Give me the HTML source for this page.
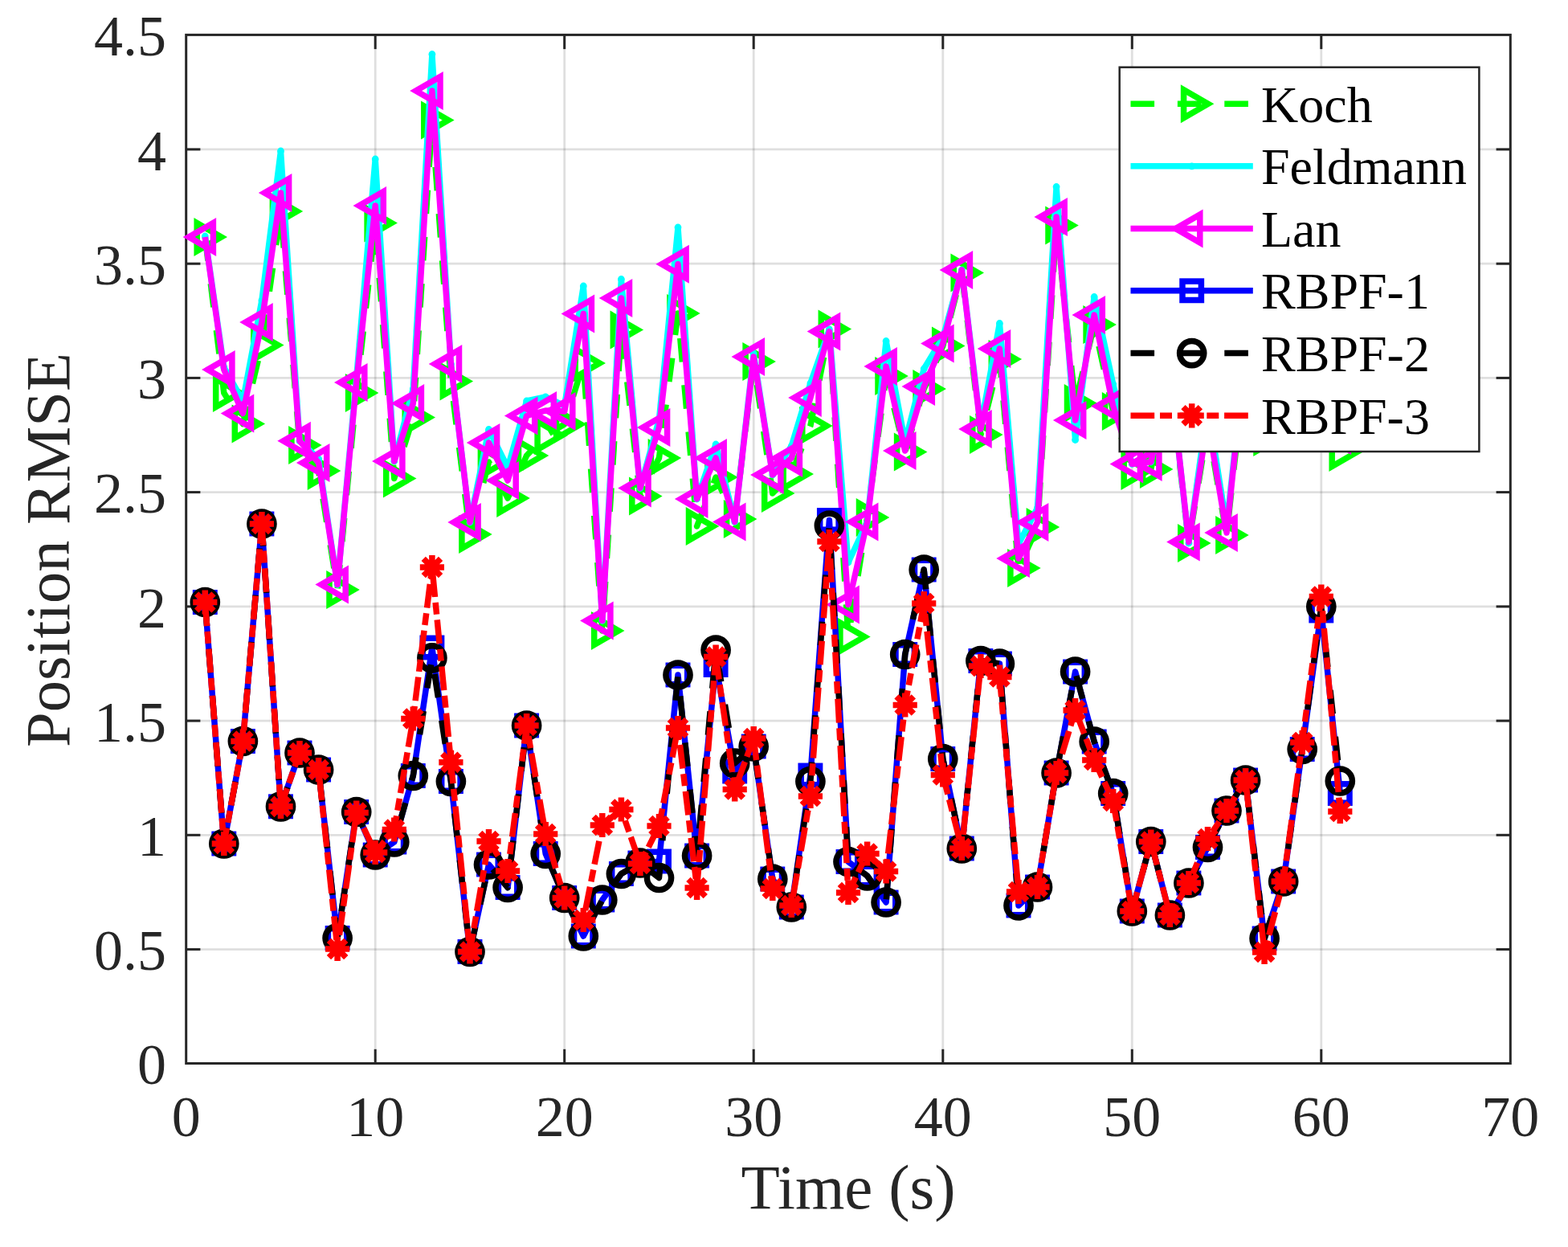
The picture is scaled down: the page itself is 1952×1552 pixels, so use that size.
<!DOCTYPE html>
<html lang="en"><head><meta charset="utf-8"><title>Position RMSE</title>
<style>html,body{margin:0;padding:0;background:#fff}body{width:1952px;height:1552px;overflow:hidden}svg{display:block}text{font-family:"Liberation Serif","Times New Roman",serif}</style>
</head><body>
<svg width="1952" height="1552" viewBox="0 0 1952 1552">
<rect width="1952" height="1552" fill="#fff"/>
<defs><clipPath id="ax"><rect x="231.7" y="43.4" width="1648.6" height="1280.1"/></clipPath>
<path id="mR" d="M-10.10,-17.50 L-10.10,17.50 L20.21,0 Z" fill="none" stroke-width="7.5" stroke-linejoin="miter" stroke-miterlimit="10"/>
<path id="mL" d="M10.10,-17.50 L10.10,17.50 L-20.21,0 Z" fill="none" stroke-width="7.5" stroke-linejoin="miter" stroke-miterlimit="10"/>
<rect id="mS" x="-11.70" y="-11.70" width="23.40" height="23.40" fill="none" stroke-width="7.5"/>
<circle id="mC" r="15.1" fill="none" stroke-width="7.5"/>
<circle id="mD" r="4.4" stroke="none" fill="#00ffff"/>
<path id="mA" d="M0,-15.10 V15.10 M-15.10,0 H15.10 M-10.68,-10.68 L10.68,10.68 M-10.68,10.68 L10.68,-10.68" fill="none" stroke-width="7.5"/>
</defs>
<g stroke="#262626" stroke-opacity="0.15" stroke-width="2.8" fill="none">
<line x1="467.2" y1="43.4" x2="467.2" y2="1323.5"/>
<line x1="702.7" y1="43.4" x2="702.7" y2="1323.5"/>
<line x1="938.2" y1="43.4" x2="938.2" y2="1323.5"/>
<line x1="1173.8" y1="43.4" x2="1173.8" y2="1323.5"/>
<line x1="1409.3" y1="43.4" x2="1409.3" y2="1323.5"/>
<line x1="1644.8" y1="43.4" x2="1644.8" y2="1323.5"/>
<line x1="231.7" y1="1181.6" x2="1880.3" y2="1181.6"/>
<line x1="231.7" y1="1039.3" x2="1880.3" y2="1039.3"/>
<line x1="231.7" y1="897.1" x2="1880.3" y2="897.1"/>
<line x1="231.7" y1="754.9" x2="1880.3" y2="754.9"/>
<line x1="231.7" y1="612.6" x2="1880.3" y2="612.6"/>
<line x1="231.7" y1="470.4" x2="1880.3" y2="470.4"/>
<line x1="231.7" y1="328.2" x2="1880.3" y2="328.2"/>
<line x1="231.7" y1="185.9" x2="1880.3" y2="185.9"/>
</g>
<g stroke="#262626" stroke-width="3" fill="none">
<rect x="231.7" y="43.4" width="1648.6" height="1280.1"/>
<line x1="467.2" y1="1323.5" x2="467.2" y2="1305.8"/>
<line x1="467.2" y1="43.4" x2="467.2" y2="61.1"/>
<line x1="702.7" y1="1323.5" x2="702.7" y2="1305.8"/>
<line x1="702.7" y1="43.4" x2="702.7" y2="61.1"/>
<line x1="938.2" y1="1323.5" x2="938.2" y2="1305.8"/>
<line x1="938.2" y1="43.4" x2="938.2" y2="61.1"/>
<line x1="1173.8" y1="1323.5" x2="1173.8" y2="1305.8"/>
<line x1="1173.8" y1="43.4" x2="1173.8" y2="61.1"/>
<line x1="1409.3" y1="1323.5" x2="1409.3" y2="1305.8"/>
<line x1="1409.3" y1="43.4" x2="1409.3" y2="61.1"/>
<line x1="1644.8" y1="1323.5" x2="1644.8" y2="1305.8"/>
<line x1="1644.8" y1="43.4" x2="1644.8" y2="61.1"/>
<line x1="231.7" y1="1181.6" x2="249.4" y2="1181.6"/>
<line x1="1880.3" y1="1181.6" x2="1862.6" y2="1181.6"/>
<line x1="231.7" y1="1039.3" x2="249.4" y2="1039.3"/>
<line x1="1880.3" y1="1039.3" x2="1862.6" y2="1039.3"/>
<line x1="231.7" y1="897.1" x2="249.4" y2="897.1"/>
<line x1="1880.3" y1="897.1" x2="1862.6" y2="897.1"/>
<line x1="231.7" y1="754.9" x2="249.4" y2="754.9"/>
<line x1="1880.3" y1="754.9" x2="1862.6" y2="754.9"/>
<line x1="231.7" y1="612.6" x2="249.4" y2="612.6"/>
<line x1="1880.3" y1="612.6" x2="1862.6" y2="612.6"/>
<line x1="231.7" y1="470.4" x2="249.4" y2="470.4"/>
<line x1="1880.3" y1="470.4" x2="1862.6" y2="470.4"/>
<line x1="231.7" y1="328.2" x2="249.4" y2="328.2"/>
<line x1="1880.3" y1="328.2" x2="1862.6" y2="328.2"/>
<line x1="231.7" y1="185.9" x2="249.4" y2="185.9"/>
<line x1="1880.3" y1="185.9" x2="1862.6" y2="185.9"/>
</g>
<g stroke="#00ff00">
<polyline clip-path="url(#ax)" points="255.3,295.0 278.8,489.0 302.4,527.5 325.9,429.5 349.5,263.0 373.0,554.0 396.6,586.0 420.1,734.0 443.7,489.0 467.2,277.5 490.8,595.5 514.3,519.5 537.9,149.5 561.4,474.5 585.0,665.0 608.5,575.0 632.1,620.0 655.6,567.0 679.2,542.0 702.7,528.0 726.3,452.0 749.8,785.0 773.4,410.5 796.9,617.5 820.5,570.0 844.0,390.0 867.6,655.0 891.1,594.0 914.7,646.0 938.2,450.0 961.8,614.0 985.3,590.0 1008.9,530.0 1032.4,409.5 1056.0,792.5 1079.6,644.0 1103.1,468.0 1126.7,562.5 1150.2,484.0 1173.8,430.5 1197.3,339.5 1220.9,541.0 1244.4,447.0 1268.0,707.0 1291.5,656.0 1315.1,280.5 1338.6,502.0 1362.2,404.0 1385.7,512.0 1409.3,586.0 1432.8,584.0 1456.4,470.0 1479.9,676.0 1503.5,530.0 1527.0,666.0 1550.6,450.0 1574.1,544.0 1597.7,420.0 1621.2,460.0 1644.8,400.0 1668.3,563.0" fill="none" stroke-width="7.5" stroke-linejoin="round" stroke-dasharray="29.6 28.8"/>
<use href="#mR" x="255.3" y="295.0"/>
<use href="#mR" x="278.8" y="489.0"/>
<use href="#mR" x="302.4" y="527.5"/>
<use href="#mR" x="325.9" y="429.5"/>
<use href="#mR" x="349.5" y="263.0"/>
<use href="#mR" x="373.0" y="554.0"/>
<use href="#mR" x="396.6" y="586.0"/>
<use href="#mR" x="420.1" y="734.0"/>
<use href="#mR" x="443.7" y="489.0"/>
<use href="#mR" x="467.2" y="277.5"/>
<use href="#mR" x="490.8" y="595.5"/>
<use href="#mR" x="514.3" y="519.5"/>
<use href="#mR" x="537.9" y="149.5"/>
<use href="#mR" x="561.4" y="474.5"/>
<use href="#mR" x="585.0" y="665.0"/>
<use href="#mR" x="608.5" y="575.0"/>
<use href="#mR" x="632.1" y="620.0"/>
<use href="#mR" x="655.6" y="567.0"/>
<use href="#mR" x="679.2" y="542.0"/>
<use href="#mR" x="702.7" y="528.0"/>
<use href="#mR" x="726.3" y="452.0"/>
<use href="#mR" x="749.8" y="785.0"/>
<use href="#mR" x="773.4" y="410.5"/>
<use href="#mR" x="796.9" y="617.5"/>
<use href="#mR" x="820.5" y="570.0"/>
<use href="#mR" x="844.0" y="390.0"/>
<use href="#mR" x="867.6" y="655.0"/>
<use href="#mR" x="891.1" y="594.0"/>
<use href="#mR" x="914.7" y="646.0"/>
<use href="#mR" x="938.2" y="450.0"/>
<use href="#mR" x="961.8" y="614.0"/>
<use href="#mR" x="985.3" y="590.0"/>
<use href="#mR" x="1008.9" y="530.0"/>
<use href="#mR" x="1032.4" y="409.5"/>
<use href="#mR" x="1056.0" y="792.5"/>
<use href="#mR" x="1079.6" y="644.0"/>
<use href="#mR" x="1103.1" y="468.0"/>
<use href="#mR" x="1126.7" y="562.5"/>
<use href="#mR" x="1150.2" y="484.0"/>
<use href="#mR" x="1173.8" y="430.5"/>
<use href="#mR" x="1197.3" y="339.5"/>
<use href="#mR" x="1220.9" y="541.0"/>
<use href="#mR" x="1244.4" y="447.0"/>
<use href="#mR" x="1268.0" y="707.0"/>
<use href="#mR" x="1291.5" y="656.0"/>
<use href="#mR" x="1315.1" y="280.5"/>
<use href="#mR" x="1338.6" y="502.0"/>
<use href="#mR" x="1362.2" y="404.0"/>
<use href="#mR" x="1385.7" y="512.0"/>
<use href="#mR" x="1409.3" y="586.0"/>
<use href="#mR" x="1432.8" y="584.0"/>
<use href="#mR" x="1456.4" y="470.0"/>
<use href="#mR" x="1479.9" y="676.0"/>
<use href="#mR" x="1503.5" y="530.0"/>
<use href="#mR" x="1527.0" y="666.0"/>
<use href="#mR" x="1550.6" y="450.0"/>
<use href="#mR" x="1574.1" y="544.0"/>
<use href="#mR" x="1597.7" y="420.0"/>
<use href="#mR" x="1621.2" y="460.0"/>
<use href="#mR" x="1644.8" y="400.0"/>
<use href="#mR" x="1668.3" y="563.0"/>
</g>
<g stroke="#00ffff">
<polyline clip-path="url(#ax)" points="255.3,294.0 278.8,457.0 302.4,499.0 325.9,374.0 349.5,188.0 373.0,548.8 396.6,571.0 420.1,727.5 443.7,470.0 467.2,198.0 490.8,574.0 514.3,484.0 537.9,67.5 561.4,453.0 585.0,650.0 608.5,534.5 632.1,582.0 655.6,499.0 679.2,494.0 702.7,505.0 726.3,356.0 749.8,772.5 773.4,347.5 796.9,607.5 820.5,522.0 844.0,283.0 867.6,621.0 891.1,553.0 914.7,649.5 938.2,440.0 961.8,591.0 985.3,555.0 1008.9,477.0 1032.4,410.0 1056.0,700.0 1079.6,649.5 1103.1,424.5 1126.7,550.0 1150.2,459.0 1173.8,420.0 1197.3,336.0 1220.9,530.0 1244.4,402.5 1268.0,677.0 1291.5,632.0 1315.1,232.5 1338.6,547.5 1362.2,369.5 1385.7,478.0 1409.3,577.5 1432.8,575.0 1456.4,463.0 1479.9,676.0 1503.5,505.0 1527.0,655.0 1550.6,437.0 1574.1,520.0 1597.7,400.0 1621.2,450.0 1644.8,380.0 1668.3,542.0" fill="none" stroke-width="7.5" stroke-linejoin="round"/>
<use href="#mD" x="255.3" y="294.0"/>
<use href="#mD" x="278.8" y="457.0"/>
<use href="#mD" x="302.4" y="499.0"/>
<use href="#mD" x="325.9" y="374.0"/>
<use href="#mD" x="349.5" y="188.0"/>
<use href="#mD" x="373.0" y="548.8"/>
<use href="#mD" x="396.6" y="571.0"/>
<use href="#mD" x="420.1" y="727.5"/>
<use href="#mD" x="443.7" y="470.0"/>
<use href="#mD" x="467.2" y="198.0"/>
<use href="#mD" x="490.8" y="574.0"/>
<use href="#mD" x="514.3" y="484.0"/>
<use href="#mD" x="537.9" y="67.5"/>
<use href="#mD" x="561.4" y="453.0"/>
<use href="#mD" x="585.0" y="650.0"/>
<use href="#mD" x="608.5" y="534.5"/>
<use href="#mD" x="632.1" y="582.0"/>
<use href="#mD" x="655.6" y="499.0"/>
<use href="#mD" x="679.2" y="494.0"/>
<use href="#mD" x="702.7" y="505.0"/>
<use href="#mD" x="726.3" y="356.0"/>
<use href="#mD" x="749.8" y="772.5"/>
<use href="#mD" x="773.4" y="347.5"/>
<use href="#mD" x="796.9" y="607.5"/>
<use href="#mD" x="820.5" y="522.0"/>
<use href="#mD" x="844.0" y="283.0"/>
<use href="#mD" x="867.6" y="621.0"/>
<use href="#mD" x="891.1" y="553.0"/>
<use href="#mD" x="914.7" y="649.5"/>
<use href="#mD" x="938.2" y="440.0"/>
<use href="#mD" x="961.8" y="591.0"/>
<use href="#mD" x="985.3" y="555.0"/>
<use href="#mD" x="1008.9" y="477.0"/>
<use href="#mD" x="1032.4" y="410.0"/>
<use href="#mD" x="1056.0" y="700.0"/>
<use href="#mD" x="1079.6" y="649.5"/>
<use href="#mD" x="1103.1" y="424.5"/>
<use href="#mD" x="1126.7" y="550.0"/>
<use href="#mD" x="1150.2" y="459.0"/>
<use href="#mD" x="1173.8" y="420.0"/>
<use href="#mD" x="1197.3" y="336.0"/>
<use href="#mD" x="1220.9" y="530.0"/>
<use href="#mD" x="1244.4" y="402.5"/>
<use href="#mD" x="1268.0" y="677.0"/>
<use href="#mD" x="1291.5" y="632.0"/>
<use href="#mD" x="1315.1" y="232.5"/>
<use href="#mD" x="1338.6" y="547.5"/>
<use href="#mD" x="1362.2" y="369.5"/>
<use href="#mD" x="1385.7" y="478.0"/>
<use href="#mD" x="1409.3" y="577.5"/>
<use href="#mD" x="1432.8" y="575.0"/>
<use href="#mD" x="1456.4" y="463.0"/>
<use href="#mD" x="1479.9" y="676.0"/>
<use href="#mD" x="1503.5" y="505.0"/>
<use href="#mD" x="1527.0" y="655.0"/>
<use href="#mD" x="1550.6" y="437.0"/>
<use href="#mD" x="1574.1" y="520.0"/>
<use href="#mD" x="1597.7" y="400.0"/>
<use href="#mD" x="1621.2" y="450.0"/>
<use href="#mD" x="1644.8" y="380.0"/>
<use href="#mD" x="1668.3" y="542.0"/>
</g>
<g stroke="#ff00ff">
<polyline clip-path="url(#ax)" points="255.3,295.0 278.8,460.0 302.4,514.5 325.9,401.0 349.5,240.0 373.0,548.8 396.6,576.0 420.1,727.5 443.7,476.0 467.2,256.0 490.8,574.0 514.3,502.0 537.9,113.0 561.4,453.0 585.0,650.0 608.5,551.0 632.1,598.0 655.6,517.5 679.2,511.0 702.7,512.0 726.3,390.5 749.8,772.5 773.4,371.0 796.9,607.5 820.5,532.0 844.0,328.8 867.6,621.0 891.1,570.0 914.7,649.5 938.2,444.0 961.8,591.0 985.3,570.0 1008.9,495.0 1032.4,412.5 1056.0,752.5 1079.6,649.5 1103.1,456.0 1126.7,561.0 1150.2,481.0 1173.8,427.5 1197.3,336.0 1220.9,534.0 1244.4,434.0 1268.0,695.0 1291.5,650.0 1315.1,270.0 1338.6,523.0 1362.2,392.0 1385.7,505.5 1409.3,577.5 1432.8,575.0 1456.4,463.0 1479.9,674.5 1503.5,523.0 1527.0,663.0 1550.6,437.0 1574.1,520.0 1597.7,400.0 1621.2,450.0 1644.8,380.0 1668.3,542.0" fill="none" stroke-width="7.5" stroke-linejoin="round"/>
<use href="#mL" x="255.3" y="295.0"/>
<use href="#mL" x="278.8" y="460.0"/>
<use href="#mL" x="302.4" y="514.5"/>
<use href="#mL" x="325.9" y="401.0"/>
<use href="#mL" x="349.5" y="240.0"/>
<use href="#mL" x="373.0" y="548.8"/>
<use href="#mL" x="396.6" y="576.0"/>
<use href="#mL" x="420.1" y="727.5"/>
<use href="#mL" x="443.7" y="476.0"/>
<use href="#mL" x="467.2" y="256.0"/>
<use href="#mL" x="490.8" y="574.0"/>
<use href="#mL" x="514.3" y="502.0"/>
<use href="#mL" x="537.9" y="113.0"/>
<use href="#mL" x="561.4" y="453.0"/>
<use href="#mL" x="585.0" y="650.0"/>
<use href="#mL" x="608.5" y="551.0"/>
<use href="#mL" x="632.1" y="598.0"/>
<use href="#mL" x="655.6" y="517.5"/>
<use href="#mL" x="679.2" y="511.0"/>
<use href="#mL" x="702.7" y="512.0"/>
<use href="#mL" x="726.3" y="390.5"/>
<use href="#mL" x="749.8" y="772.5"/>
<use href="#mL" x="773.4" y="371.0"/>
<use href="#mL" x="796.9" y="607.5"/>
<use href="#mL" x="820.5" y="532.0"/>
<use href="#mL" x="844.0" y="328.8"/>
<use href="#mL" x="867.6" y="621.0"/>
<use href="#mL" x="891.1" y="570.0"/>
<use href="#mL" x="914.7" y="649.5"/>
<use href="#mL" x="938.2" y="444.0"/>
<use href="#mL" x="961.8" y="591.0"/>
<use href="#mL" x="985.3" y="570.0"/>
<use href="#mL" x="1008.9" y="495.0"/>
<use href="#mL" x="1032.4" y="412.5"/>
<use href="#mL" x="1056.0" y="752.5"/>
<use href="#mL" x="1079.6" y="649.5"/>
<use href="#mL" x="1103.1" y="456.0"/>
<use href="#mL" x="1126.7" y="561.0"/>
<use href="#mL" x="1150.2" y="481.0"/>
<use href="#mL" x="1173.8" y="427.5"/>
<use href="#mL" x="1197.3" y="336.0"/>
<use href="#mL" x="1220.9" y="534.0"/>
<use href="#mL" x="1244.4" y="434.0"/>
<use href="#mL" x="1268.0" y="695.0"/>
<use href="#mL" x="1291.5" y="650.0"/>
<use href="#mL" x="1315.1" y="270.0"/>
<use href="#mL" x="1338.6" y="523.0"/>
<use href="#mL" x="1362.2" y="392.0"/>
<use href="#mL" x="1385.7" y="505.5"/>
<use href="#mL" x="1409.3" y="577.5"/>
<use href="#mL" x="1432.8" y="575.0"/>
<use href="#mL" x="1456.4" y="463.0"/>
<use href="#mL" x="1479.9" y="674.5"/>
<use href="#mL" x="1503.5" y="523.0"/>
<use href="#mL" x="1527.0" y="663.0"/>
<use href="#mL" x="1550.6" y="437.0"/>
<use href="#mL" x="1574.1" y="520.0"/>
<use href="#mL" x="1597.7" y="400.0"/>
<use href="#mL" x="1621.2" y="450.0"/>
<use href="#mL" x="1644.8" y="380.0"/>
<use href="#mL" x="1668.3" y="542.0"/>
</g>
<g stroke="#0000ff">
<polyline clip-path="url(#ax)" points="255.3,749.5 278.8,1050.0 302.4,922.5 325.9,652.0 349.5,1003.8 373.0,937.0 396.6,958.0 420.1,1167.5 443.7,1010.5 467.2,1064.0 490.8,1048.0 514.3,965.5 537.9,806.0 561.4,972.5 585.0,1184.5 608.5,1076.0 632.1,1104.5 655.6,903.0 679.2,1062.5 702.7,1117.5 726.3,1165.0 749.8,1120.0 773.4,1087.5 796.9,1074.0 820.5,1072.0 844.0,840.0 867.6,1065.0 891.1,827.5 914.7,960.0 938.2,929.0 961.8,1094.0 985.3,1129.0 1008.9,965.0 1032.4,647.5 1056.0,1072.5 1079.6,1090.0 1103.1,1123.0 1126.7,814.5 1150.2,709.0 1173.8,944.5 1197.3,1056.0 1220.9,822.5 1244.4,826.0 1268.0,1127.0 1291.5,1104.0 1315.1,962.0 1338.6,836.0 1362.2,923.0 1385.7,987.5 1409.3,1134.0 1432.8,1047.5 1456.4,1139.0 1479.9,1099.0 1503.5,1054.5 1527.0,1009.0 1550.6,971.0 1574.1,1168.0 1597.7,1097.0 1621.2,932.5 1644.8,760.0 1668.3,987.5" fill="none" stroke-width="7.5" stroke-linejoin="round"/>
<use href="#mS" x="255.3" y="749.5"/>
<use href="#mS" x="278.8" y="1050.0"/>
<use href="#mS" x="302.4" y="922.5"/>
<use href="#mS" x="325.9" y="652.0"/>
<use href="#mS" x="349.5" y="1003.8"/>
<use href="#mS" x="373.0" y="937.0"/>
<use href="#mS" x="396.6" y="958.0"/>
<use href="#mS" x="420.1" y="1167.5"/>
<use href="#mS" x="443.7" y="1010.5"/>
<use href="#mS" x="467.2" y="1064.0"/>
<use href="#mS" x="490.8" y="1048.0"/>
<use href="#mS" x="514.3" y="965.5"/>
<use href="#mS" x="537.9" y="806.0"/>
<use href="#mS" x="561.4" y="972.5"/>
<use href="#mS" x="585.0" y="1184.5"/>
<use href="#mS" x="608.5" y="1076.0"/>
<use href="#mS" x="632.1" y="1104.5"/>
<use href="#mS" x="655.6" y="903.0"/>
<use href="#mS" x="679.2" y="1062.5"/>
<use href="#mS" x="702.7" y="1117.5"/>
<use href="#mS" x="726.3" y="1165.0"/>
<use href="#mS" x="749.8" y="1120.0"/>
<use href="#mS" x="773.4" y="1087.5"/>
<use href="#mS" x="796.9" y="1074.0"/>
<use href="#mS" x="820.5" y="1072.0"/>
<use href="#mS" x="844.0" y="840.0"/>
<use href="#mS" x="867.6" y="1065.0"/>
<use href="#mS" x="891.1" y="827.5"/>
<use href="#mS" x="914.7" y="960.0"/>
<use href="#mS" x="938.2" y="929.0"/>
<use href="#mS" x="961.8" y="1094.0"/>
<use href="#mS" x="985.3" y="1129.0"/>
<use href="#mS" x="1008.9" y="965.0"/>
<use href="#mS" x="1032.4" y="647.5"/>
<use href="#mS" x="1056.0" y="1072.5"/>
<use href="#mS" x="1079.6" y="1090.0"/>
<use href="#mS" x="1103.1" y="1123.0"/>
<use href="#mS" x="1126.7" y="814.5"/>
<use href="#mS" x="1150.2" y="709.0"/>
<use href="#mS" x="1173.8" y="944.5"/>
<use href="#mS" x="1197.3" y="1056.0"/>
<use href="#mS" x="1220.9" y="822.5"/>
<use href="#mS" x="1244.4" y="826.0"/>
<use href="#mS" x="1268.0" y="1127.0"/>
<use href="#mS" x="1291.5" y="1104.0"/>
<use href="#mS" x="1315.1" y="962.0"/>
<use href="#mS" x="1338.6" y="836.0"/>
<use href="#mS" x="1362.2" y="923.0"/>
<use href="#mS" x="1385.7" y="987.5"/>
<use href="#mS" x="1409.3" y="1134.0"/>
<use href="#mS" x="1432.8" y="1047.5"/>
<use href="#mS" x="1456.4" y="1139.0"/>
<use href="#mS" x="1479.9" y="1099.0"/>
<use href="#mS" x="1503.5" y="1054.5"/>
<use href="#mS" x="1527.0" y="1009.0"/>
<use href="#mS" x="1550.6" y="971.0"/>
<use href="#mS" x="1574.1" y="1168.0"/>
<use href="#mS" x="1597.7" y="1097.0"/>
<use href="#mS" x="1621.2" y="932.5"/>
<use href="#mS" x="1644.8" y="760.0"/>
<use href="#mS" x="1668.3" y="987.5"/>
</g>
<g stroke="#000000">
<polyline clip-path="url(#ax)" points="255.3,749.5 278.8,1050.0 302.4,922.5 325.9,652.0 349.5,1003.8 373.0,937.0 396.6,958.0 420.1,1167.5 443.7,1010.5 467.2,1064.0 490.8,1048.0 514.3,965.5 537.9,818.8 561.4,972.5 585.0,1184.5 608.5,1076.0 632.1,1104.5 655.6,903.0 679.2,1062.5 702.7,1117.5 726.3,1165.0 749.8,1120.0 773.4,1087.5 796.9,1074.0 820.5,1092.5 844.0,840.0 867.6,1065.0 891.1,809.0 914.7,950.0 938.2,929.0 961.8,1094.0 985.3,1129.0 1008.9,972.5 1032.4,654.0 1056.0,1072.5 1079.6,1090.0 1103.1,1123.0 1126.7,814.5 1150.2,709.0 1173.8,944.5 1197.3,1056.0 1220.9,822.5 1244.4,826.0 1268.0,1127.0 1291.5,1104.0 1315.1,962.0 1338.6,836.0 1362.2,923.0 1385.7,987.5 1409.3,1134.0 1432.8,1047.5 1456.4,1139.0 1479.9,1099.0 1503.5,1054.5 1527.0,1009.0 1550.6,971.0 1574.1,1168.0 1597.7,1097.0 1621.2,932.5 1644.8,755.0 1668.3,972.0" fill="none" stroke-width="7.5" stroke-linejoin="round" stroke-dasharray="29.6 28.8"/>
<use href="#mC" x="255.3" y="749.5"/>
<use href="#mC" x="278.8" y="1050.0"/>
<use href="#mC" x="302.4" y="922.5"/>
<use href="#mC" x="325.9" y="652.0"/>
<use href="#mC" x="349.5" y="1003.8"/>
<use href="#mC" x="373.0" y="937.0"/>
<use href="#mC" x="396.6" y="958.0"/>
<use href="#mC" x="420.1" y="1167.5"/>
<use href="#mC" x="443.7" y="1010.5"/>
<use href="#mC" x="467.2" y="1064.0"/>
<use href="#mC" x="490.8" y="1048.0"/>
<use href="#mC" x="514.3" y="965.5"/>
<use href="#mC" x="537.9" y="818.8"/>
<use href="#mC" x="561.4" y="972.5"/>
<use href="#mC" x="585.0" y="1184.5"/>
<use href="#mC" x="608.5" y="1076.0"/>
<use href="#mC" x="632.1" y="1104.5"/>
<use href="#mC" x="655.6" y="903.0"/>
<use href="#mC" x="679.2" y="1062.5"/>
<use href="#mC" x="702.7" y="1117.5"/>
<use href="#mC" x="726.3" y="1165.0"/>
<use href="#mC" x="749.8" y="1120.0"/>
<use href="#mC" x="773.4" y="1087.5"/>
<use href="#mC" x="796.9" y="1074.0"/>
<use href="#mC" x="820.5" y="1092.5"/>
<use href="#mC" x="844.0" y="840.0"/>
<use href="#mC" x="867.6" y="1065.0"/>
<use href="#mC" x="891.1" y="809.0"/>
<use href="#mC" x="914.7" y="950.0"/>
<use href="#mC" x="938.2" y="929.0"/>
<use href="#mC" x="961.8" y="1094.0"/>
<use href="#mC" x="985.3" y="1129.0"/>
<use href="#mC" x="1008.9" y="972.5"/>
<use href="#mC" x="1032.4" y="654.0"/>
<use href="#mC" x="1056.0" y="1072.5"/>
<use href="#mC" x="1079.6" y="1090.0"/>
<use href="#mC" x="1103.1" y="1123.0"/>
<use href="#mC" x="1126.7" y="814.5"/>
<use href="#mC" x="1150.2" y="709.0"/>
<use href="#mC" x="1173.8" y="944.5"/>
<use href="#mC" x="1197.3" y="1056.0"/>
<use href="#mC" x="1220.9" y="822.5"/>
<use href="#mC" x="1244.4" y="826.0"/>
<use href="#mC" x="1268.0" y="1127.0"/>
<use href="#mC" x="1291.5" y="1104.0"/>
<use href="#mC" x="1315.1" y="962.0"/>
<use href="#mC" x="1338.6" y="836.0"/>
<use href="#mC" x="1362.2" y="923.0"/>
<use href="#mC" x="1385.7" y="987.5"/>
<use href="#mC" x="1409.3" y="1134.0"/>
<use href="#mC" x="1432.8" y="1047.5"/>
<use href="#mC" x="1456.4" y="1139.0"/>
<use href="#mC" x="1479.9" y="1099.0"/>
<use href="#mC" x="1503.5" y="1054.5"/>
<use href="#mC" x="1527.0" y="1009.0"/>
<use href="#mC" x="1550.6" y="971.0"/>
<use href="#mC" x="1574.1" y="1168.0"/>
<use href="#mC" x="1597.7" y="1097.0"/>
<use href="#mC" x="1621.2" y="932.5"/>
<use href="#mC" x="1644.8" y="755.0"/>
<use href="#mC" x="1668.3" y="972.0"/>
</g>
<g stroke="#ff0000">
<polyline clip-path="url(#ax)" points="255.3,749.5 278.8,1050.0 302.4,922.5 325.9,652.0 349.5,1003.8 373.0,937.0 396.6,958.0 420.1,1181.0 443.7,1011.5 467.2,1061.0 490.8,1032.5 514.3,894.5 537.9,706.0 561.4,948.8 585.0,1184.5 608.5,1047.0 632.1,1084.0 655.6,903.0 679.2,1038.0 702.7,1117.5 726.3,1145.0 749.8,1027.0 773.4,1007.5 796.9,1075.0 820.5,1028.0 844.0,906.0 867.6,1105.0 891.1,817.5 914.7,982.5 938.2,919.0 961.8,1106.0 985.3,1127.0 1008.9,991.0 1032.4,674.0 1056.0,1111.0 1079.6,1062.5 1103.1,1084.5 1126.7,877.5 1150.2,751.0 1173.8,964.5 1197.3,1056.0 1220.9,829.0 1244.4,842.5 1268.0,1110.0 1291.5,1104.0 1315.1,962.0 1338.6,884.0 1362.2,946.0 1385.7,997.0 1409.3,1134.0 1432.8,1047.5 1456.4,1139.0 1479.9,1099.0 1503.5,1044.0 1527.0,1009.0 1550.6,971.0 1574.1,1185.0 1597.7,1097.0 1621.2,924.0 1644.8,742.5 1668.3,1010.0" fill="none" stroke-width="7.5" stroke-linejoin="round" stroke-dasharray="29.7 6.8 15 6.8"/>
<use href="#mA" x="255.3" y="749.5"/>
<use href="#mA" x="278.8" y="1050.0"/>
<use href="#mA" x="302.4" y="922.5"/>
<use href="#mA" x="325.9" y="652.0"/>
<use href="#mA" x="349.5" y="1003.8"/>
<use href="#mA" x="373.0" y="937.0"/>
<use href="#mA" x="396.6" y="958.0"/>
<use href="#mA" x="420.1" y="1181.0"/>
<use href="#mA" x="443.7" y="1011.5"/>
<use href="#mA" x="467.2" y="1061.0"/>
<use href="#mA" x="490.8" y="1032.5"/>
<use href="#mA" x="514.3" y="894.5"/>
<use href="#mA" x="537.9" y="706.0"/>
<use href="#mA" x="561.4" y="948.8"/>
<use href="#mA" x="585.0" y="1184.5"/>
<use href="#mA" x="608.5" y="1047.0"/>
<use href="#mA" x="632.1" y="1084.0"/>
<use href="#mA" x="655.6" y="903.0"/>
<use href="#mA" x="679.2" y="1038.0"/>
<use href="#mA" x="702.7" y="1117.5"/>
<use href="#mA" x="726.3" y="1145.0"/>
<use href="#mA" x="749.8" y="1027.0"/>
<use href="#mA" x="773.4" y="1007.5"/>
<use href="#mA" x="796.9" y="1075.0"/>
<use href="#mA" x="820.5" y="1028.0"/>
<use href="#mA" x="844.0" y="906.0"/>
<use href="#mA" x="867.6" y="1105.0"/>
<use href="#mA" x="891.1" y="817.5"/>
<use href="#mA" x="914.7" y="982.5"/>
<use href="#mA" x="938.2" y="919.0"/>
<use href="#mA" x="961.8" y="1106.0"/>
<use href="#mA" x="985.3" y="1127.0"/>
<use href="#mA" x="1008.9" y="991.0"/>
<use href="#mA" x="1032.4" y="674.0"/>
<use href="#mA" x="1056.0" y="1111.0"/>
<use href="#mA" x="1079.6" y="1062.5"/>
<use href="#mA" x="1103.1" y="1084.5"/>
<use href="#mA" x="1126.7" y="877.5"/>
<use href="#mA" x="1150.2" y="751.0"/>
<use href="#mA" x="1173.8" y="964.5"/>
<use href="#mA" x="1197.3" y="1056.0"/>
<use href="#mA" x="1220.9" y="829.0"/>
<use href="#mA" x="1244.4" y="842.5"/>
<use href="#mA" x="1268.0" y="1110.0"/>
<use href="#mA" x="1291.5" y="1104.0"/>
<use href="#mA" x="1315.1" y="962.0"/>
<use href="#mA" x="1338.6" y="884.0"/>
<use href="#mA" x="1362.2" y="946.0"/>
<use href="#mA" x="1385.7" y="997.0"/>
<use href="#mA" x="1409.3" y="1134.0"/>
<use href="#mA" x="1432.8" y="1047.5"/>
<use href="#mA" x="1456.4" y="1139.0"/>
<use href="#mA" x="1479.9" y="1099.0"/>
<use href="#mA" x="1503.5" y="1044.0"/>
<use href="#mA" x="1527.0" y="1009.0"/>
<use href="#mA" x="1550.6" y="971.0"/>
<use href="#mA" x="1574.1" y="1185.0"/>
<use href="#mA" x="1597.7" y="1097.0"/>
<use href="#mA" x="1621.2" y="924.0"/>
<use href="#mA" x="1644.8" y="742.5"/>
<use href="#mA" x="1668.3" y="1010.0"/>
</g>
<rect x="1393.7" y="83.7" width="447.7" height="478.3" fill="#fff" stroke="#262626" stroke-width="2.5"/>
<g stroke="#00ff00">
<line x1="1407.5" y1="129.3" x2="1559.8" y2="129.3" stroke-width="7.5" stroke-dasharray="29.6 28.8"/>
<use href="#mR" x="1483.7" y="129.3"/>
</g>
<text x="1570" y="151.9" font-size="64" fill="#000">Koch</text>
<g stroke="#00ffff">
<line x1="1407.5" y1="206.8" x2="1559.8" y2="206.8" stroke-width="7.5"/>
<use href="#mD" x="1483.7" y="206.8"/>
</g>
<text x="1570" y="229.4" font-size="64" fill="#000">Feldmann</text>
<g stroke="#ff00ff">
<line x1="1407.5" y1="284.4" x2="1559.8" y2="284.4" stroke-width="7.5"/>
<use href="#mL" x="1483.7" y="284.4"/>
</g>
<text x="1570" y="307.0" font-size="64" fill="#000">Lan</text>
<g stroke="#0000ff">
<line x1="1407.5" y1="361.8" x2="1559.8" y2="361.8" stroke-width="7.5"/>
<use href="#mS" x="1483.7" y="361.8"/>
</g>
<text x="1570" y="384.4" font-size="64" fill="#000">RBPF-1</text>
<g stroke="#000000">
<line x1="1407.5" y1="439.6" x2="1559.8" y2="439.6" stroke-width="7.5" stroke-dasharray="29.6 28.8"/>
<use href="#mC" x="1483.7" y="439.6"/>
</g>
<text x="1570" y="462.2" font-size="64" fill="#000">RBPF-2</text>
<g stroke="#ff0000">
<line x1="1407.5" y1="517.3" x2="1559.8" y2="517.3" stroke-width="7.5" stroke-dasharray="29.7 6.8 15 6.8"/>
<use href="#mA" x="1483.7" y="517.3"/>
</g>
<text x="1570" y="539.9" font-size="64" fill="#000">RBPF-3</text>
<g font-size="72" fill="#262626">
<text x="231.7" y="1413.6" text-anchor="middle">0</text>
<text x="467.2" y="1413.6" text-anchor="middle">10</text>
<text x="702.7" y="1413.6" text-anchor="middle">20</text>
<text x="938.2" y="1413.6" text-anchor="middle">30</text>
<text x="1173.8" y="1413.6" text-anchor="middle">40</text>
<text x="1409.3" y="1413.6" text-anchor="middle">50</text>
<text x="1644.8" y="1413.6" text-anchor="middle">60</text>
<text x="1880.3" y="1413.6" text-anchor="middle">70</text>
<text x="207" y="1349.2" text-anchor="end">0</text>
<text x="207" y="1207.3" text-anchor="end">0.5</text>
<text x="207" y="1065.0" text-anchor="end">1</text>
<text x="207" y="922.8" text-anchor="end">1.5</text>
<text x="207" y="780.6" text-anchor="end">2</text>
<text x="207" y="638.3" text-anchor="end">2.5</text>
<text x="207" y="496.1" text-anchor="end">3</text>
<text x="207" y="353.9" text-anchor="end">3.5</text>
<text x="207" y="211.6" text-anchor="end">4</text>
<text x="207" y="69.1" text-anchor="end">4.5</text>
</g>
<text x="1056" y="1503.7" font-size="79" fill="#262626" text-anchor="middle">Time (s)</text>
<text transform="translate(86.3,684.5) rotate(-90)" font-size="78.5" fill="#262626" text-anchor="middle">Position RMSE</text>
</svg>
</body></html>
